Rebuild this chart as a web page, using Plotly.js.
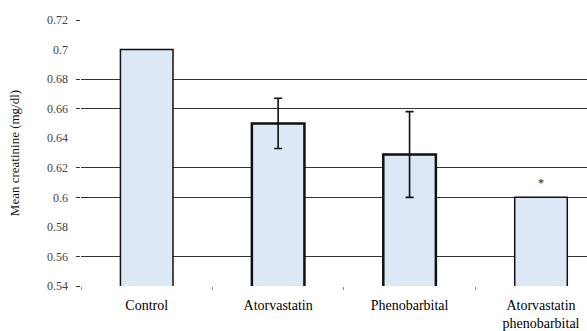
<!DOCTYPE html>
<html>
<head>
<meta charset="utf-8">
<script src="https://cdn.plot.ly/plotly-3.0.1.min.js"></script>
<style>html,body{margin:0;padding:0;background:#fff}#chart{width:587px;height:331px}</style>
</head>
<body>
<div id="chart"></div>
<script>
const categories = ["Control", "Atorvastatin", "Phenobarbital", "Atorvastatin<br>phenobarbital"];
const meanCreatinine = [0.70, 0.650, 0.629, 0.600];
const errorValues = [null, 0.017, 0.029, null];
const significance = ["", "", "", "*"];
const yTickVals = [0.54, 0.56, 0.58, 0.60, 0.62, 0.64, 0.66, 0.68, 0.70, 0.72];
const yTickText = ["0.54", "0.56", "0.58", "0.6", "0.62", "0.64", "0.66", "0.68", "0.7", "0.72"];
const gridVals = [0.54, 0.56, 0.60, 0.62, 0.66, 0.68, 0.72];

const serif = "Liberation Serif, Times New Roman, serif";

const barTrace = {
  type: "bar",
  x: categories,
  y: meanCreatinine,
  width: 0.4,
  marker: {
    color: "#dce8f5",
    line: { color: "#111", width: [1.5, 2.5, 2.5, 1.5] }
  },
  hoverinfo: "skip"
};

const errIdx = errorValues.map((e, i) => e == null ? -1 : i).filter(i => i >= 0);
const errTrace = {
  type: "scatter",
  mode: "markers",
  x: errIdx.map(i => categories[i]),
  y: errIdx.map(i => meanCreatinine[i]),
  marker: { size: 1, color: "rgba(0,0,0,0)" },
  error_y: {
    type: "data",
    array: errIdx.map(i => errorValues[i]),
    visible: true,
    color: "#111",
    thickness: 1.6,
    width: 4
  },
  hoverinfo: "skip"
};

const annotations = categories.map((c, i) => ({
  x: c, y: meanCreatinine[i], xref: "x", yref: "y",
  text: significance[i], showarrow: false,
  yanchor: "bottom", yshift: 5,
  font: { family: serif, size: 12, color: "#222" }
})).filter(a => a.text);

const layout = {
  width: 587, height: 331,
  margin: { l: 81, r: 0, t: 20, b: 45 },
  paper_bgcolor: "#fff", plot_bgcolor: "#fff",
  showlegend: false,
  xaxis: {
    type: "category",
    range: [-0.5, 3.35],
    tickson: "boundaries",
    ticks: "outside", ticklen: 3, tickcolor: "#888", tickwidth: 1,
    showgrid: false, showline: false, zeroline: false,
    ticklabelstandoff: 9,
    tickfont: { family: serif, size: 14, color: "#000" },
    fixedrange: true
  },
  yaxis: {
    range: [0.54, 0.72],
    tickmode: "array", tickvals: yTickVals, ticktext: yTickText,
    ticks: "", showgrid: false, showline: false, zeroline: false,
    ticklabelstandoff: 12,
    tickfont: { family: serif, size: 12, color: "#444" },
    minor: {
      tickmode: "array", tickvals: gridVals,
      showgrid: true, gridcolor: "#333", gridwidth: 1,
      ticks: "outside", ticklen: 4, tickcolor: "#333", tickwidth: 1
    },
    title: { text: "Mean creatinine (mg/dl)", standoff: 24,
             font: { family: serif, size: 13, color: "#111" } },
    automargin: false,
    fixedrange: true
  },
  annotations: annotations
};

Plotly.newPlot("chart", [barTrace, errTrace], layout, { displayModeBar: false, staticPlot: true });
</script>
</body>
</html>
